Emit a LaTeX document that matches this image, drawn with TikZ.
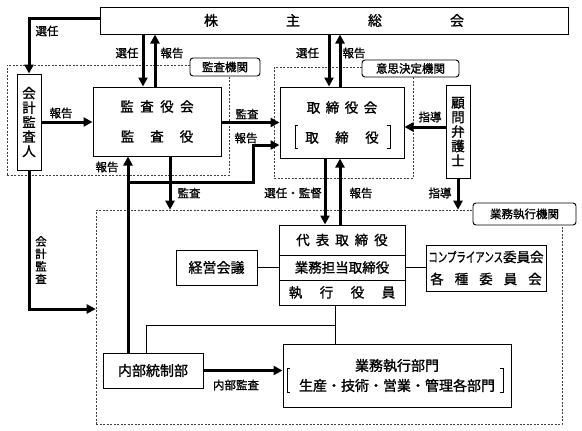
\documentclass[tikz,border=0pt]{standalone}
\usepackage{graphicx}
\usepackage{fontspec}
\setmainfont{Noto Sans CJK JP}[FakeBold=1.2]
\usetikzlibrary{arrows.meta}

\begin{document}
\begin{tikzpicture}[
	x=1pt, y=-1pt,
	box/.style={
		rectangle,
		draw=black,
		line width=1pt,
		align=center,
		inner sep=0pt,
		font=\fontsize{13.5}{15}\selectfont
	},
	area/.style={
		rectangle,
		draw=black!75,
		line width=0.6pt,
		dash pattern=on 2pt off 1.5pt,
		inner sep=0pt
	},
	tag/.style={
		rectangle,
		draw=black,
		line width=0.9pt,
		rounded corners=3pt,
		fill=white,
		inner sep=0pt,
		font=\fontsize{11.5}{12}\selectfont
	},
	lbl/.style={
		inner sep=0pt,
		align=center,
		font=\fontsize{11.5}{12.5}\selectfont
	},
	flow/.style={
		line width=3pt,
		-{Triangle[length=9pt,width=9pt]}
	},
	link/.style={
		line width=0.9pt
	},
]
\useasboundingbox (0,0) rectangle (582,431);

% dotted areas and their tags
\node[area, minimum width=222pt, minimum height=110pt] (auditarea) at (118,120) {};
\node[area, minimum width=139pt, minimum height=111pt] (decarea) at (343.5,122.5) {};
\node[area, minimum width=466pt, minimum height=214pt] (execarea) at (329,317) {};

\node[tag, minimum width=70pt, minimum height=18pt] (audittag) at (225,67) {監査機関};
\node[tag, minimum width=97pt, minimum height=17pt] (dectag) at (410.5,68.5) {意思決定機関};
\node[tag, minimum width=103pt, minimum height=22pt] (exectag) at (524.5,214) {業務執行機関};

% boxes
\node[box, minimum width=468pt, minimum height=27pt, font=\fontsize{14}{16}\selectfont] (sh) at (334,20.5)
	{株\hspace{68pt}主\hspace{68pt}総\hspace{68pt}会};
\node[box, minimum width=24pt, minimum height=96pt, font=\fontsize{13.5}{14.5}\selectfont] (cpa) at (29,122)
	{会\\計\\監\\査\\人};
\node[box, minimum width=128pt, minimum height=69pt, font=\fontsize{13.5}{30}\selectfont] (kansa) at (157,121.5)
	{監\hspace{6.5pt}査\hspace{6.5pt}役\hspace{6.5pt}会\\監\hspace{16pt}査\hspace{16pt}役};
\node[box, minimum width=124pt, minimum height=71pt, font=\fontsize{13.5}{30}\selectfont] (board) at (342,122.5)
	{取\hspace{5.5pt}締\hspace{5.5pt}役\hspace{5.5pt}会\\取\hspace{16.5pt}締\hspace{16.5pt}役};
\node[box, minimum width=24pt, minimum height=93pt, font=\fontsize{13.5}{14.5}\selectfont] (lawyer) at (458,131.5)
	{顧\\問\\弁\\護\\士};
\node[box, minimum width=126pt, minimum height=30pt] (rep) at (342,240)
	{代\hspace{6pt}表\hspace{6pt}取\hspace{6pt}締\hspace{6pt}役};
\node[box, minimum width=126pt, minimum height=25pt] (dir) at (342,267.5) {業務担当取締役};
\node[box, minimum width=126pt, minimum height=25pt] (off) at (342,292.5)
	{執\hspace{17.5pt}行\hspace{17.5pt}役\hspace{17.5pt}員};
\node[box, minimum width=81pt, minimum height=35pt, font=\fontsize{14}{16}\selectfont] (keiei) at (216.5,267.5) {経営会議};
\node[box, minimum width=120pt, minimum height=46pt, font=\fontsize{13.5}{22}\selectfont] (comm) at (486,268)
	{\scalebox{0.7}[1]{コンプライアンス}委員会\\各\hspace{11pt}種\hspace{11pt}委\hspace{11pt}員\hspace{11pt}会};
\node[box, minimum width=100pt, minimum height=35pt, font=\fontsize{14}{16}\selectfont] (naibu) at (153,370.5) {内部統制部};
\node[box, minimum width=228pt, minimum height=63pt, font=\fontsize{14}{20}\selectfont] (gyomu) at (397,375.5)
	{業務執行部門\\生産・技術・営業・管理各部門};

% brackets
\draw[link] ([xshift=-44pt,yshift=-2.5pt]board.center) -- ++(-3,0) -- ++(0,23) -- ++(3,0);
\draw[link] ([xshift=45pt,yshift=-2.5pt]board.center) -- ++(3,0) -- ++(0,23) -- ++(-3,0);
\draw[link] ([xshift=-107pt,yshift=7.5pt]gyomu.center) -- ++(-3,0) -- ++(0,24) -- ++(3,0);
\draw[link] ([xshift=103pt,yshift=7.5pt]gyomu.center) -- ++(3,0) -- ++(0,24) -- ++(-3,0);

% labels
\node[lbl] (lsel0) at (47,31) {選任};
\node[lbl] (lsel1) at (127,53) {選任};
\node[lbl] (lrep1) at (172,53) {報告};
\node[lbl] (lsel2) at (307.5,53) {選任};
\node[lbl] (lrep2) at (354,53) {報告};
\node[lbl] (lrep0) at (61,113) {報告};
\node[lbl] (laud1) at (247,114) {監査};
\node[lbl] (lrep3) at (246,138) {報告};
\node[lbl] (lrep4) at (107,167) {報告};
\node[lbl] (laud2) at (189,193) {監査};
\node[lbl] (lsup) at (293,193) {選任・監督};
\node[lbl] (lrep5) at (361,193) {報告};
\node[lbl] (lguid1) at (430,117) {指導};
\node[lbl] (lguid2) at (440,193) {指導};
\node[lbl] (lcpa) at (41,260) {会\\計\\監\\査};
\node[lbl] (lint) at (236,385) {内部監査};

% thick connectors
\coordinate (jn) at (128,182);
\coordinate (bend) at (253,145);

\draw[flow] ([yshift=2.5pt]sh.west) -| (cpa.north);
\draw[flow] (cpa.east) -- (cpa.east -| kansa.west);
\draw[flow] ([xshift=-14pt]kansa.north |- sh.south) -- ([xshift=-14pt]kansa.north);
\draw[flow] ([xshift=-2pt]kansa.north) -- ([xshift=-2pt]kansa.north |- sh.south);
\draw[flow] ([xshift=-13pt]board.north |- sh.south) -- ([xshift=-13pt]board.north);
\draw[flow] ([xshift=-2pt]board.north) -- ([xshift=-2pt]board.north |- sh.south);
\draw[flow] ([yshift=-1pt]kansa.east) -- ([yshift=-1pt]kansa.east -| board.west);
\draw[flow] ([xshift=-25pt]naibu.north) -- ([xshift=-25pt]naibu.north |- kansa.south);
\draw[flow] (jn) -| (bend) -- (bend -| board.west);
\draw[flow] ([xshift=13pt]kansa.south) -- ([xshift=13pt]kansa.south |- execarea.north);
\draw[flow] (cpa.south) |- ([yshift=8pt]execarea.west);
\draw[flow] ([yshift=4.5pt]lawyer.west) -- ([yshift=4.5pt]lawyer.west -| board.east);
\draw[flow] (lawyer.south) -- (lawyer.south |- execarea.north);
\draw[flow] ([xshift=-17pt]board.south) -- ([xshift=-17pt]board.south |- rep.north);
\draw[flow] ([xshift=-2pt]rep.north) -- ([xshift=-2pt]rep.north |- board.south);
\draw[flow] (naibu.east) -- (naibu.east -| gyomu.west);

% thin connectors
\coordinate (split) at (335,325);
\draw[link] (keiei.east) -- (keiei.east -| dir.west);
\draw[link] (dir.east) -- (dir.east -| comm.west);
\draw[link] ([xshift=-7pt]off.south) -- ([xshift=-7pt]off.south |- gyomu.north);
\draw[link] (split) -| ([xshift=-7pt]naibu.north);

\end{tikzpicture}
\end{document}
